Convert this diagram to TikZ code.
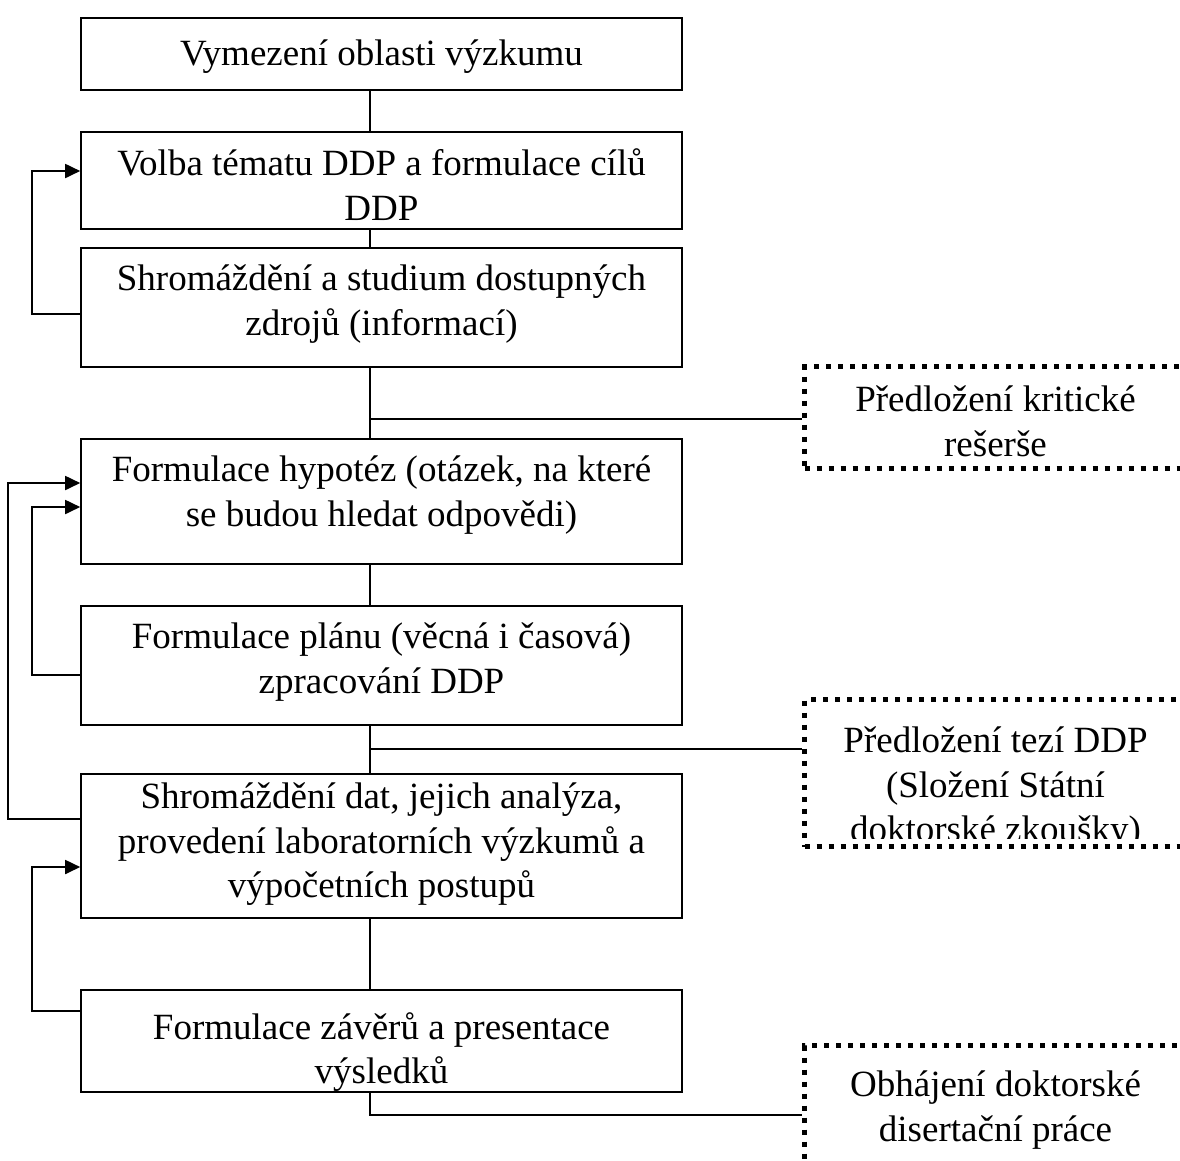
\documentclass[tikz,border=0pt]{standalone}
\usepackage{fontspec}
\setmainfont{Liberation Serif}
\usetikzlibrary{arrows.meta,positioning,calc}

\begin{document}
\begin{tikzpicture}[
  x=1pt, y=-1pt,
  stepbox/.style={rectangle,draw,line width=1.6pt,minimum width=601pt,anchor=north,inner sep=0pt},
  steptext/.style={align=center,anchor=north,inner sep=0pt,font={\fontsize{37}{44.5}\selectfont}},
  notebox/.style={rectangle,draw,line width=5pt,dash pattern=on 5pt off 7pt,minimum width=382pt,anchor=north west,inner sep=0pt},
  link/.style={line width=1.6pt},
  back/.style={line width=1.8pt,-{Triangle[length=15pt,width=14pt]}}
]
\useasboundingbox (0,0) rectangle (1180,1160);
\clip (0,0) rectangle (1180,1160);

% Main steps (boxes)
\node[stepbox,minimum height=72pt] (b1) at (381.5,17) {};
\node[stepbox,minimum height=97pt] (b2) at (381.5,131) {};
\node[stepbox,minimum height=119pt] (b3) at (381.5,247) {};
\node[stepbox,minimum height=125pt] (b4) at (381.5,438) {};
\node[stepbox,minimum height=119pt] (b5) at (381.5,605) {};
\node[stepbox,minimum height=144pt] (b6) at (381.5,773) {};
\node[stepbox,minimum height=102pt] (b7) at (381.5,989) {};

% Step texts
\node[steptext,anchor=center] (t1) at ([yshift=-3pt]b1.center) {Vymezení oblasti výzkumu};
\node[steptext] (t2) at ([yshift=-18pt]b2.north) {Volba tématu DDP a formulace cílů\\DDP};
\node[steptext] (t3) at ([yshift=-18pt]b3.north) {Shromáždění a studium dostupných\\zdrojů (informací)};
\node[steptext] (t4) at ([yshift=-18pt]b4.north) {Formulace hypotéz (otázek, na které\\se budou hledat odpovědi)};
\node[steptext] (t5) at ([yshift=-18pt]b5.north) {Formulace plánu (věcná i časová)\\zpracování DDP};
\begin{scope}
  \clip (b6.north west) rectangle ([yshift=12pt]b6.south east);
  \node[steptext] (t6) at ([yshift=-10pt]b6.north) {Shromáždění dat, jejich analýza,\\provedení laboratorních výzkumů a\\výpočetních postupů};
\end{scope}
\node[steptext] (t7) at ([yshift=-23pt]b7.north) {Formulace závěrů a presentace\\výsledků};

% Milestones (dotted boxes)
\node[notebox,minimum height=102pt] (d1) at (802,364) {};
\node[notebox,minimum height=147pt] (d2) at (802,697) {};
\node[notebox,minimum height=160pt] (d3) at (802,1043) {};

\node[steptext] (n1) at ([yshift=-22pt]d1.north) {Předložení kritické\\rešerše};
\begin{scope}
  \clip (d2.north west) rectangle ([yshift=11pt]d2.south east);
  \node[steptext] (n2) at ([yshift=-30pt]d2.north) {Předložení tezí DDP\\(Složení Státní\\doktorské zkoušky)};
\end{scope}
\node[steptext] (n3) at ([yshift=-28pt]d3.north) {Obhájení doktorské\\disertační práce};

% Main flow
\coordinate (spine) at (370,0);
\draw[link] (b1.south -| spine) -- (b2.north -| spine);
\draw[link] (b2.south -| spine) -- (b3.north -| spine);
\draw[link] (b3.south -| spine) -- (b4.north -| spine);
\draw[link] (b4.south -| spine) -- (b5.north -| spine);
\draw[link] (b5.south -| spine) -- (b6.north -| spine);
\draw[link] (b6.south -| spine) -- (b7.north -| spine);

% Branches to milestones
\draw[link] (spine |- 0,419) -- (d1.west |- 0,419);
\draw[link] (spine |- 0,749) -- (d2.west |- 0,749);
\draw[link] (b7.south -| spine) |- (d3.west |- 0,1115);

% Feedback loops
\draw[back] (b3.west |- 0,314) -- ++(-48,0) |- (b2.west |- 0,171);
\draw[back] (b5.west |- 0,675) -- ++(-48,0) |- (b4.west |- 0,507);
\draw[back] (b6.west |- 0,819) -- ++(-72,0) |- (b4.west |- 0,483);
\draw[back] (b7.west |- 0,1011) -- ++(-48,0) |- (b6.west |- 0,867);

\end{tikzpicture}
\end{document}
